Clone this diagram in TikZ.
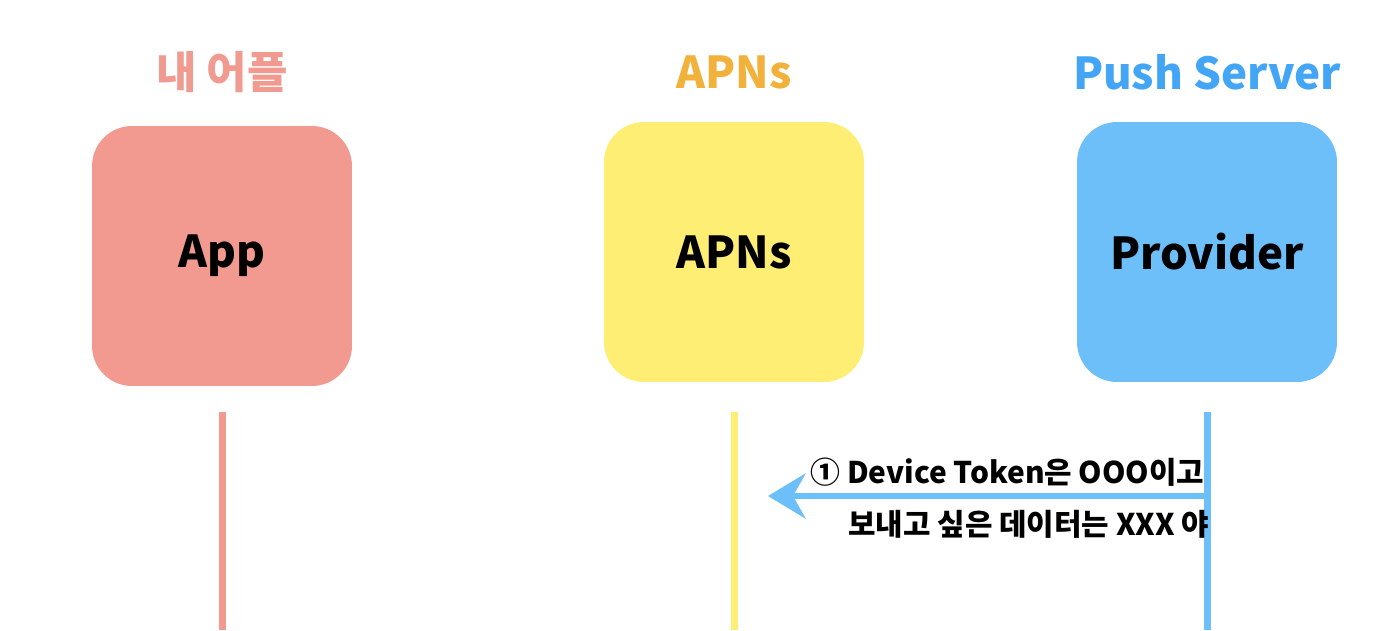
\documentclass[tikz,border=0pt]{standalone}
\usepackage{fontspec}
\setmainfont{Noto Sans CJK KR}
\usetikzlibrary{arrows.meta,positioning}
\definecolor{AppRed}{HTML}{F29A8F}
\definecolor{ApnsYellow}{HTML}{FEEE74}
\definecolor{ProvBlue}{HTML}{6DBFF9}
\definecolor{TitleRed}{HTML}{F09A90}
\definecolor{TitleOrange}{HTML}{F2B13B}
\definecolor{TitleBlue}{HTML}{42A5F5}

\begin{document}
\begin{tikzpicture}[
  x=0.02cm,y=-0.02cm,
  actor/.style={rounded corners=0.8cm,minimum width=5.2cm,minimum height=5.2cm,align=center,font=\fontsize{25}{30}\selectfont\bfseries},
  title/.style={font=\fontsize{25}{28}\selectfont\bfseries},
  life/.style={line width=0.14cm},
  msg/.style={font=\fontsize{17}{20}\selectfont\bfseries,anchor=west,inner sep=0pt},
  arr/.style={-{Stealth[length=0.75cm,width=0.9cm,inset=0.25cm]},line width=0.12cm,draw=ProvBlue}
]
\useasboundingbox (0,0) rectangle (1400,630);
\node[actor,fill=AppRed] (app) at (222,256) {App};
\node[actor,fill=ApnsYellow] (apns) at (734,252) {APNs};
\node[actor,fill=ProvBlue] (prov) at (1207,252) {Provider};
\node[title,text=TitleRed] (tapp) at (222,72) {내 어플};
\node[title,text=TitleOrange] (tapns) at (734,72) {APNs};
\node[title,text=TitleBlue] (tprov) at (1207,72) {Push Server};
% lifelines
\coordinate (appEnd) at (222,630);
\coordinate (apnsEnd) at (734,630);
\coordinate (provEnd) at (1207,630);
\draw[life,draw=AppRed] ([yshift=-0.52cm]app.south) -- (appEnd);
\draw[life,draw=ApnsYellow] ([yshift=-0.6cm]apns.south) -- (apnsEnd);
\draw[life,draw=ProvBlue] ([yshift=-0.6cm]prov.south) -- (provEnd);
% message 1
\coordinate (msgS) at (1207,496);
\coordinate (msgE) at (768,496);
\draw[arr] (msgS) -- (msgE);
\node[msg] (msgA) at (810,472) {① Device Token은 OOO이고};
\node[msg] (msgB) at (848,524) {보내고 싶은 데이터는 XXX 야};
\end{tikzpicture}
\end{document}
